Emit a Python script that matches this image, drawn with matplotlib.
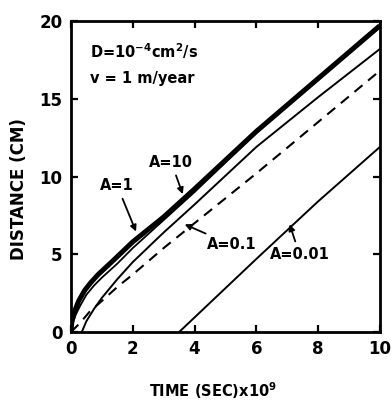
import matplotlib
matplotlib.use("Agg")
import matplotlib.pyplot as plt

plt.rcParams['font.family'] = ['DejaVu Sans']
plt.rcParams['mathtext.default'] = 'regular'

# curves (time in 1e9 s, distance in cm)
x_a10 = [0, 0.03, 0.13, 0.25, 0.45, 0.65, 0.88, 1.15, 1.42, 2.0, 2.5, 3.0, 4.0, 6.0, 8.0, 10.0]
y_a10 = [0, 0.7, 1.4, 2.0, 2.7, 3.2, 3.7, 4.2, 4.7, 5.8, 6.6, 7.4, 9.2, 12.9, 16.3, 19.7]

x_a1 = [0, 0.05, 0.15, 0.3, 0.5, 0.75, 1.0, 1.5, 2.0, 2.5, 3.0, 4.0, 6.0, 8.0, 10.0]
y_a1 = [0, 0.5, 1.1, 1.7, 2.4, 3.0, 3.5, 4.4, 5.4, 6.3, 7.2, 9.0, 12.8, 16.2, 19.6]

x_a01 = [0.35, 0.5, 0.75, 1.0, 1.5, 2.0, 3.0, 4.0, 6.0, 8.0, 10.0]
y_a01 = [0, 0.7, 1.5, 2.2, 3.4, 4.5, 6.4, 8.2, 11.9, 15.1, 18.2]

x_dash = [0, 0.3, 0.6, 1.0, 1.5, 2.0, 3.0, 4.0, 6.0, 8.0, 10.0]
y_dash = [0, 0.6, 1.3, 2.0, 2.9, 3.7, 5.4, 7.0, 10.2, 13.5, 16.8]

x_a001 = [3.5, 6.0, 8.0, 10.0]
y_a001 = [0, 4.7, 8.4, 11.9]

xticks = [0, 2, 4, 6, 8, 10]
yticks = [0, 5, 10, 15, 20]

fig = plt.figure(figsize=(3.92, 4.04), dpi=100)
ax = fig.add_axes([0.181, 0.178, 0.788, 0.77])

ax.plot(x_a10, y_a10, color='black', lw=3.6, solid_capstyle='butt')
ax.plot(x_a1, y_a1, color='black', lw=1.3)
ax.plot(x_a01, y_a01, color='black', lw=1.4)
ax.plot(x_dash, y_dash, color='black', lw=1.5, dashes=(5, 3.5))
ax.plot(x_a001, y_a001, color='black', lw=1.4)

ax.set_xlim(0, 10)
ax.set_ylim(0, 20)
ax.set_xticks(xticks)
ax.set_yticks(yticks)
ax.tick_params(direction='in', length=5, width=1.6, top=True, right=True,
               labelsize=12, pad=6)
for lab in ax.get_xticklabels() + ax.get_yticklabels():
    lab.set_fontweight('bold')
for s in ax.spines.values():
    s.set_linewidth(2.0)

ax.set_xlabel('TIME (SEC)x10$^9$', fontsize=10.5, fontweight='bold')
ax.xaxis.set_label_coords(0.46, -0.155)
ax.set_ylabel('DISTANCE (CM)', fontsize=12, fontweight='bold')
ax.yaxis.set_label_coords(-0.14, 0.46)

ax.text(0.62, 17.6, 'D=10$^{-4}$cm$^2$/s', fontsize=10.5, fontweight='bold')
ax.text(0.62, 16.0, 'v = 1 m/year', fontsize=10.5, fontweight='bold')

arrow = dict(arrowstyle='-|>', color='black', lw=1.3, mutation_scale=9)
ax.annotate('A=10', xy=(3.65, 8.7), xytext=(3.25, 10.9), fontsize=10.5,
            fontweight='bold', ha='center', va='center', arrowprops=arrow)
ax.annotate('A=1', xy=(2.14, 6.3), xytext=(1.5, 9.4), fontsize=10.5,
            fontweight='bold', ha='center', va='center', arrowprops=arrow)
ax.annotate('A=0.1', xy=(3.6, 7.0), xytext=(5.2, 5.6), fontsize=10.5,
            fontweight='bold', ha='center', va='center', arrowprops=arrow)
ax.annotate('A=0.01', xy=(7.05, 7.1), xytext=(7.4, 5.0), fontsize=10.5,
            fontweight='bold', ha='center', va='center', arrowprops=arrow)

fig.savefig('out.png', dpi=100)
